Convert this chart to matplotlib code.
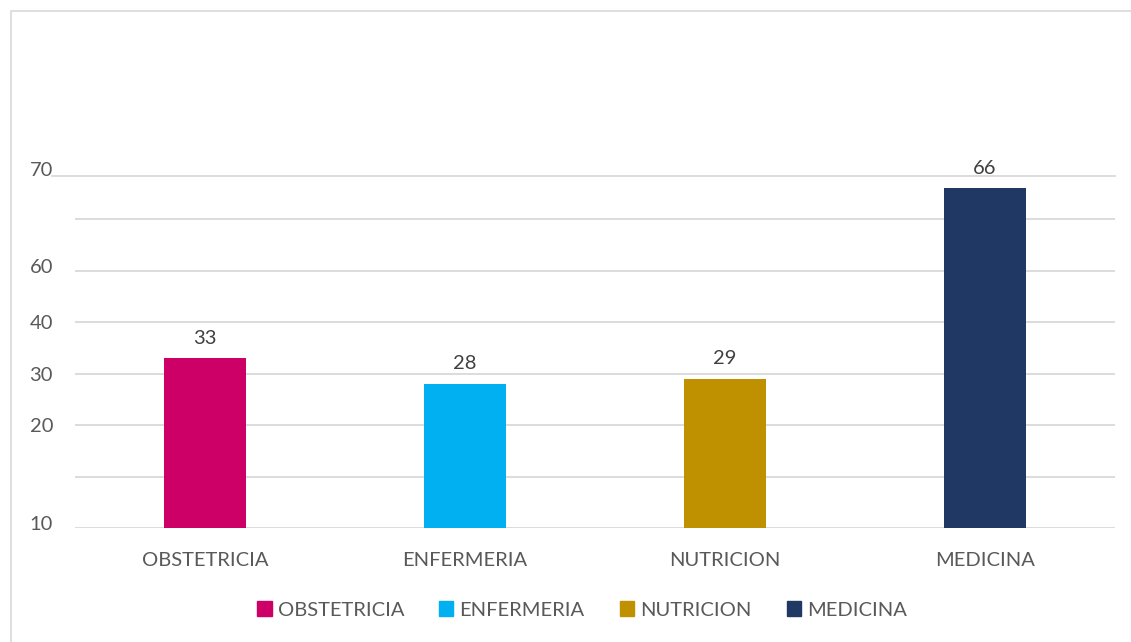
import matplotlib
matplotlib.use("Agg")
import matplotlib.pyplot as plt
from matplotlib.patches import Rectangle, Patch

categories = ["OBSTETRICIA", "ENFERMERIA", "NUTRICION", "MEDICINA"]
values = [33, 28, 29, 66]
colors = ["#CC0066", "#00B0F0", "#BF9000", "#1F3864"]

# the source chart has odd, hand-set axis labels
grid_vals = [0, 10, 20, 30, 40, 50, 60]
top_line = 68.3
tick_pos = [1.0, 20, 30, 40, 50.8, 69.8]
tick_txt = ["10", "20", "30", "40", "60", "70"]

plt.rcParams['font.family'] = ['Lato', 'DejaVu Sans']
txt_col = "#595959"
grid_col = "#D9D9D9"
fs = 14.5

W, H = 1131, 642
fig = plt.figure(figsize=(W / 100, H / 100), dpi=100)
fig.patches.append(Rectangle((11 / W, -0.1), 1.2, 1 - 11 / H + 0.1, transform=fig.transFigure,
                             fill=False, edgecolor=grid_col, linewidth=1.2))

ax = fig.add_axes([75 / W, 114 / H, 1040 / W, (528 - 150) / H])
x = range(len(categories))
ax.bar(x, values, width=0.315, color=colors, zorder=3)
for xi, v in zip(x, values):
    ax.text(xi, v + 2.2, str(v), ha='center', va='bottom', fontsize=fs, color="#404040")

for g in grid_vals:
    ax.axhline(g, color=grid_col, linewidth=1.3, zorder=1)
ax.axhline(top_line, xmin=-0.022, xmax=1, color=grid_col, linewidth=1.3, zorder=1, clip_on=False)

ax.set_xlim(-0.5, 3.5)
ax.set_ylim(0, 73.4)
ax.set_xticks(list(x))
ax.set_xticklabels(categories, fontsize=fs, color=txt_col)
ax.set_yticks(tick_pos)
ax.set_yticklabels(tick_txt, fontsize=fs, color=txt_col)
ax.tick_params(axis='both', length=0)
ax.tick_params(axis='x', pad=17)
ax.tick_params(axis='y', pad=23)
for lbl in ax.get_yticklabels():
    lbl.set_x(10 / 1040)
for s in ax.spines.values():
    s.set_visible(False)

handles = [Patch(color=c, label=l) for c, l in zip(colors, categories)]
leg = fig.legend(handles=handles, loc='center', bbox_to_anchor=(582 / W, 1 - 610 / H), ncol=4,
                 frameon=False, fontsize=fs, handlelength=0.7, handleheight=0.7,
                 handletextpad=0.3, columnspacing=1.75)
for t in leg.get_texts():
    t.set_color(txt_col)

fig.savefig("out.png", dpi=100)
